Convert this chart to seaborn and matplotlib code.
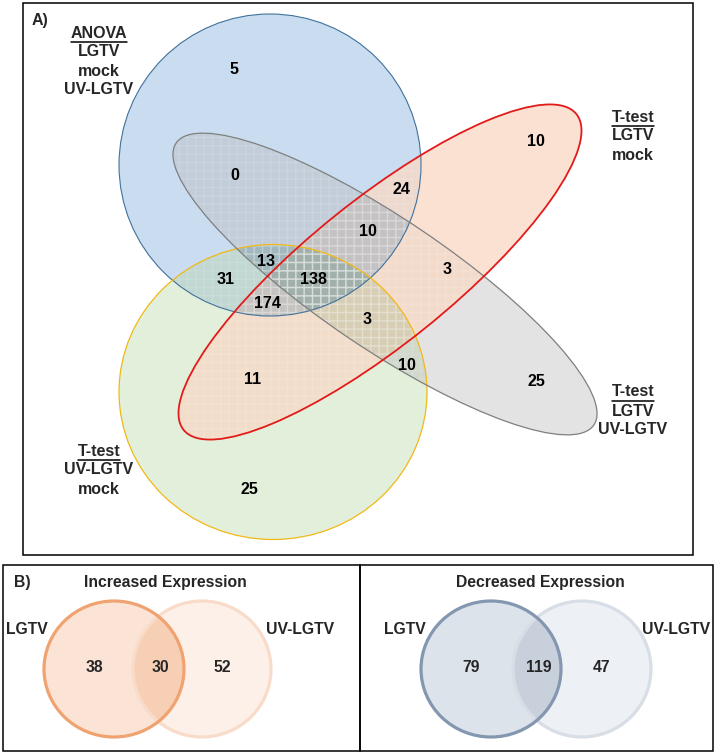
import matplotlib
matplotlib.use("Agg")
import matplotlib.pyplot as plt
import seaborn as sns
from matplotlib import font_manager
from matplotlib.patches import Ellipse, Rectangle

sns.set_theme(style="white")
plt.rcParams["font.family"] = ["Liberation Sans", "DejaVu Sans"]
plt.rcParams["hatch.linewidth"] = 1.0

# panel A: four-way comparison of gene lists
set_titles = ["ANOVA", "T-test", "T-test", "T-test"]
set_members = [["LGTV", "mock", "UV-LGTV"], ["LGTV", "mock"],
               ["LGTV", "UV-LGTV"], ["UV-LGTV", "mock"]]
region_keys = ["A", "AC", "AB", "ABC", "ACD", "AD", "ABCD", "ABD",
               "B", "BC", "BCD", "C", "CD", "BD", "D"]
region_counts = [5, 0, 24, 10, 13, 31, 138, 174, 10, 3, 3, 25, 10, 11, 25]

# panel B: two-way comparisons
pair_labels = ["LGTV", "UV-LGTV"]
inc_counts = [38, 30, 52]
dec_counts = [79, 119, 47]

# layout (pixel coordinates, y pointing down)
shapes = {
    "A": dict(xy=(270, 165), width=302, height=302, angle=0,
              fill="#C9DCF0", edge="#41719C", tint="#4178B1", lw=0.8),
    "D": dict(xy=(273, 392), width=308, height=295, angle=0,
              fill="#E2EFDA", edge="#F2B817", tint="#89AE72", lw=0.9),
    "C": dict(xy=(385, 284), width=504, height=130, angle=34,
              fill="#E3E3E3", edge="#7F7F7F", tint="#8F8F8F", lw=0.9),
    "B": dict(xy=(380, 272), width=504, height=144, angle=-38.8,
              fill="#FBE1D1", edge="#E31A1A", tint=None, lw=1.3),
}
draw_order = ["A", "D", "C", "B"]
region_pos = {
    "A": (234, 70), "AC": (235, 176), "AB": (401, 189), "ABC": (368, 232),
    "ACD": (266, 262), "AD": (226, 279), "ABCD": (313, 279), "ABD": (267, 304),
    "B": (536, 141), "BC": (447, 270), "BCD": (367, 320), "C": (536, 382),
    "CD": (407, 366), "BD": (253, 380), "D": (249, 489),
}
title_pos = {"A": (99, 33), "B": (633, 117), "C": (633, 392), "D": (99, 451)}
line_gap = 19

fig = plt.figure(figsize=(7.17, 7.54), dpi=100)
ax = fig.add_axes([0, 0, 1, 1])
ax.set_xlim(0, 717)
ax.set_ylim(754, 0)
ax.axis("off")


def make(key, **kw):
    s = shapes[key]
    return Ellipse(s["xy"], s["width"], s["height"], angle=s["angle"],
                   transform=ax.transData, **kw)


for k in draw_order:
    ax.add_patch(make(k, facecolor=shapes[k]["fill"], edgecolor="none", zorder=1))

# darken and texture the overlaps
for i, low in enumerate(draw_order):
    for up in draw_order[i + 1:]:
        p = make(up, facecolor=shapes[low]["tint"], edgecolor="none",
                 alpha=0.2 if up != "B" else 0.07, zorder=2)
        ax.add_patch(p)
        p.set_clip_path(make(low))
        hh = make(low, facecolor="none", edgecolor="white", hatch="++",
                  lw=0, alpha=0.14, zorder=3)
        ax.add_patch(hh)
        hh.set_clip_path(make(up))

for k in draw_order:
    ax.add_patch(make(k, fill=False, edgecolor=shapes[k]["edge"],
                      lw=shapes[k]["lw"], zorder=5))

for key, n in zip(region_keys, region_counts):
    x, y = region_pos[key]
    ax.text(x, y, str(n), ha="center", va="center", fontsize=11.5,
            fontweight="bold", color="black", zorder=6)

headers = []
for key, title, members in zip(["A", "B", "C", "D"], set_titles, set_members):
    x, y = title_pos[key]
    headers.append(ax.text(x, y, title, ha="center", va="center", fontsize=11.5,
                           fontweight="bold", zorder=6))
    for j, m in enumerate(members):
        ax.text(x, y + line_gap * (j + 1), m, ha="center", va="center",
                fontsize=11.5, fontweight="bold", zorder=6)

ax.text(40, 20, "A)", ha="center", va="center", fontsize=11.5, fontweight="bold")
ax.add_patch(Rectangle((23, 3), 670, 552, fill=False, edgecolor="black", lw=1.1))

# panel B
names = {f.name for f in font_manager.fontManager.ttflist}
if "Liberation Sans Narrow" in names:
    narrow, bsize, nsize = "Liberation Sans Narrow", 12.5, 12
else:
    narrow, bsize, nsize = "Liberation Sans", 11.3, 11.3

venn2 = [
    dict(title="Increased Expression", counts=inc_counts, centers=(114, 202),
         tx=165, lab=(27, 300), fills=("#FBE4D5", "#FDF0E8", "#F7CFB5"),
         edges=("#F0A370", "#F9DBCA")),
    dict(title="Decreased Expression", counts=dec_counts, centers=(491, 582),
         tx=540, lab=(405, 676), fills=("#DDE3EB", "#EDF0F5", "#C8D0DC"),
         edges=("#8497B0", "#D8DEE6")),
]
cy, r = 669, 69
for v in venn2:
    c1, c2 = v["centers"]
    left = Ellipse((c1, cy), 2 * r + 2, 2 * r - 2, transform=ax.transData)
    ax.add_patch(Ellipse((c1, cy), 2 * r + 2, 2 * r - 2, facecolor=v["fills"][0],
                         edgecolor="none", zorder=1))
    ax.add_patch(Ellipse((c2, cy), 2 * r, 2 * r - 2, facecolor=v["fills"][1],
                         edgecolor="none", zorder=1))
    ov = Ellipse((c2, cy), 2 * r, 2 * r - 2, facecolor=v["fills"][2],
                 edgecolor="none", zorder=2)
    ax.add_patch(ov)
    ov.set_clip_path(left)
    ax.add_patch(Ellipse((c2, cy), 2 * r, 2 * r - 2, fill=False,
                         edgecolor=v["edges"][1], lw=2.3, zorder=3))
    ax.add_patch(Ellipse((c1, cy), 2 * r + 2, 2 * r - 2, fill=False,
                         edgecolor=v["edges"][0], lw=2.3, zorder=4))
    xs = [c1 - 20, (c1 + c2) / 2 + 2, c2 + 20]
    for x, n in zip(xs, v["counts"]):
        ax.text(x, 668, str(n), ha="center", va="center", fontsize=nsize,
                fontweight="bold", family=narrow, zorder=6)
    ax.text(v["tx"], 583, v["title"], ha="center", va="center", fontsize=bsize,
            fontweight="bold", family=narrow)
    for x, lab in zip(v["lab"], pair_labels):
        ax.text(x, 630, lab, ha="center", va="center", fontsize=bsize,
                fontweight="bold", family=narrow)

ax.text(22, 583, "B)", ha="center", va="center", fontsize=bsize,
        fontweight="bold", family=narrow)
ax.add_patch(Rectangle((3, 565), 357, 186, fill=False, edgecolor="black", lw=1.1))
ax.add_patch(Rectangle((360, 565), 353, 186, fill=False, edgecolor="black", lw=1.1))

# underline the set titles
fig.canvas.draw()
inv = ax.transData.inverted()
for t in headers:
    bb = t.get_window_extent()
    (x0, y0), (x1, y1) = inv.transform([[bb.x0, bb.y0], [bb.x1, bb.y1]])
    ax.plot([x0, x1], [y0 + 1, y0 + 1], color="black", lw=1.1)

fig.savefig("out.png", dpi=100)
